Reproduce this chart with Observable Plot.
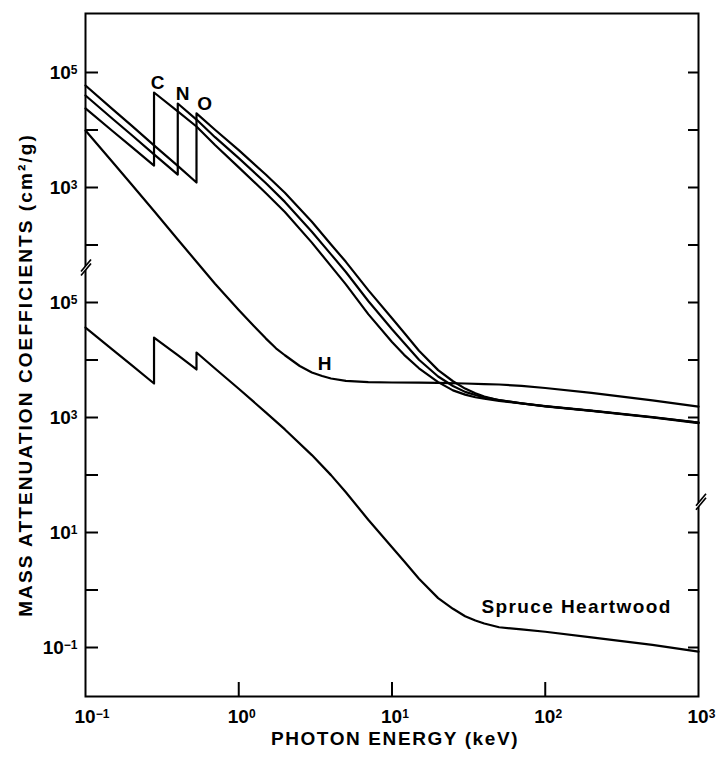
<!DOCTYPE html>
<html><head><meta charset="utf-8">
<script src="https://cdn.jsdelivr.net/npm/d3@7"></script>
<script src="https://cdn.jsdelivr.net/npm/@observablehq/plot@0.6"></script>
<style>
html,body{margin:0;padding:0;background:#fff;}
</style>
</head><body><div id="chart"></div>
<script>
// ---- data: [photon energy keV, mass attenuation coefficient cm^2/g] ----
const carbon = [[0.1,2.37e4],[0.15,9.61e3],[0.2,5.10e3],[0.28,2.41e3],[0.28,4.49e4],[0.4,2.10e4],[0.53,1.15e4],[0.7,5.48e3],[1,2.24e3],[1.5,802],[2,375],[3,110],[4,43],[5,20.7],[7,6.28],[10,2.05],[12,1.23],[15,0.717],[20,0.413],[25,0.296],[30,0.250],[35,0.225],[40,0.213],[50,0.194],[70,0.175],[100,0.156],[200,0.130],[500,0.100],[1000,0.080]];
const nitrogen = [[0.1,3.98e4],[0.15,1.57e4],[0.2,8.19e3],[0.28,3.78e3],[0.4,1.68e3],[0.4,2.89e4],[0.53,1.52e4],[0.7,7.50e3],[1,3.24e3],[1.5,1.20e3],[2,562],[3,170],[4,68.7],[5,33.9],[7,10.6],[10,3.43],[12,1.98],[15,1.01],[20,0.516],[25,0.353],[30,0.279],[35,0.246],[40,0.224],[50,0.200],[70,0.176],[100,0.157],[200,0.131],[500,0.101],[1000,0.0812]];
const oxygen = [[0.1,5.94e4],[0.15,2.31e4],[0.2,1.19e4],[0.28,5.40e3],[0.4,2.38e3],[0.53,1.22e3],[0.53,1.94e4],[0.7,1.01e4],[1,4.47e3],[1.5,1.68e3],[2,809],[3,254],[4,102],[5,51],[7,16.4],[10,5.31],[12,2.97],[15,1.45],[20,0.667],[25,0.427],[30,0.318],[35,0.265],[40,0.232],[50,0.200],[70,0.177],[100,0.158],[200,0.132],[500,0.102],[1000,0.0818]];
const hydrogen = [[0.1,9.80e3],[0.15,2.77e3],[0.2,1.13e3],[0.28,389],[0.4,125],[0.53,51.1],[0.7,21.2],[1,7.41],[1.25,3.94],[1.5,2.38],[1.75,1.60],[2,1.21],[2.5,0.787],[3,0.608],[3.5,0.527],[4,0.477],[5,0.435],[7,0.413],[10,0.406],[15,0.404],[20,0.400],[30,0.390],[40,0.381],[50,0.375],[70,0.355],[100,0.326],[200,0.269],[500,0.198],[1000,0.155]];
const spruce = [[0.1,3.67e4],[0.15,1.52e4],[0.2,8.15e3],[0.28,3.90e3],[0.28,2.46e4],[0.4,1.21e4],[0.53,6.84e3],[0.53,1.35e4],[0.7,7.11e3],[1,3.16e3],[1.5,1.23e3],[2,620],[3,222],[4,99.5],[5,50.0],[7,16.7],[10,5.55],[12,3.16],[15,1.57],[20,0.723],[25,0.471],[30,0.349],[35,0.295],[40,0.261],[50,0.225],[70,0.206],[100,0.188],[200,0.150],[500,0.111],[1000,0.0851]];

// the element curves use an upper (broken) scale sitting 4 decades above the spruce scale
const upperShift = 1e4;

// labels
const labelText = ["C", "N", "O", "H", "Spruce Heartwood"];
const labelEnergy = [0.295, 0.43, 0.598, 3.63, 160];
const labelValue = [6.7e4, 4.31e4, 2.89e4, 0.869, 0.516];
const labelUpper = [true, true, true, true, false];

// ticks
const xTickValues = [0.1, 1, 10, 100, 1000];
const xInnerTicks = [1, 10, 100];
const lowerTicks = [1e-1, 1e0, 1e1, 1e2, 1e3, 1e4, 1e5];
const lowerLabeled = [1e-1, 1e1, 1e3, 1e5];
const upperTicks = [1e2, 1e3, 1e4, 1e5];
const upperLabeled = [1e3, 1e5];
// axis breaks (in spruce-scale units)
const axisBreaks = [{side: "left", value: 3.9e5}, {side: "right", value: 33}];

const xTitle = "PHOTON ENERGY (keV)";
const yTitle = "MASS ATTENUATION COEFFICIENTS (cm\u00B2/g)";

// ---- build ----
const seriesList = [["C", carbon, upperShift], ["N", nitrogen, upperShift], ["O", oxygen, upperShift], ["H", hydrogen, upperShift], ["Spruce", spruce, 1]];
const rows = seriesList.flatMap(([name, pts, k]) => pts.map(([E, v]) => ({series: name, E, y: v * k})));
const labelRows = labelText.map((t, i) => ({label: t, E: labelEnergy[i], y: labelValue[i] * (labelUpper[i] ? upperShift : 1)}));
const yTickMarks = [...lowerTicks, ...upperTicks.map(v => v * upperShift)];
const yLabelValues = [...lowerLabeled, ...upperLabeled.map(v => v * upperShift)];
const pow = v => "10^" + String(Math.round(Math.log10(v))).replace("-", "\u2212");
const yFmt = d => d >= 1e6 ? pow(d / upperShift) : pow(d);

function breakMarks(index, scales, values, dimensions) {
  const ns = "http://www.w3.org/2000/svg";
  const g = document.createElementNS(ns, "g");
  for (const b of axisBreaks) {
    const x = b.side === "left" ? dimensions.marginLeft : dimensions.width - dimensions.marginRight;
    const y = scales.y(b.value);
    const cx = x + (b.side === "left" ? 1 : 3);
    const mask = document.createElementNS(ns, "polygon");
    mask.setAttribute("points", `${cx-4},${y+6} ${cx+4},${y-4} ${cx+4},${y-7} ${cx-4},${y+3}`);
    mask.setAttribute("fill", "white");
    g.appendChild(mask);
    for (const off of [3.5, -0.5]) {
      const l = document.createElementNS(ns, "line");
      l.setAttribute("x1", cx - 5); l.setAttribute("y1", y + 4 + off);
      l.setAttribute("x2", cx + 5); l.setAttribute("y2", y - 8 + off);
      l.setAttribute("stroke", "black"); l.setAttribute("stroke-width", 1.7);
      g.appendChild(l);
    }
  }
  return g;
}

const font = "'Liberation Sans', Arial, Helvetica, sans-serif";
const plot = Plot.plot({
  width: 719, height: 763,
  marginLeft: 85, marginRight: 21, marginTop: 13, marginBottom: 67,
  style: {fontFamily: font, fontSize: "19px", fontWeight: "bold", background: "white", color: "black"},
  x: {type: "log", domain: [0.1, 1000]},
  y: {type: "log", domain: [10 ** -1.852, 10 ** 10.026]},
  marks: [
    Plot.frame({stroke: "black", strokeWidth: 2}),
    Plot.tickY(yTickMarks, {y: d => d, insetRight: 600, strokeWidth: 2}),
    Plot.tickY(yTickMarks, {y: d => d, insetLeft: 603, strokeWidth: 2}),
    Plot.tickX(xInnerTicks, {x: d => d, insetTop: 669, strokeWidth: 2}),
    Plot.axisX({ticks: xTickValues, anchor: "bottom", tickSize: 0, tickPadding: 13, tickFormat: pow, label: null, fontSize: 19}),
    Plot.axisY({ticks: yLabelValues, anchor: "left", tickSize: 0, tickPadding: 8, tickFormat: yFmt, label: null, fontSize: 19}),
    Plot.line(rows, {x: "E", y: "y", z: "series", stroke: "black", strokeWidth: 2.2}),
    Plot.text(labelRows, {x: "E", y: "y", text: "label", fontSize: 19, fontWeight: "bold"}),
    Plot.text([xTitle], {frameAnchor: "bottom", textAnchor: "middle", lineAnchor: "middle", dx: 3, dy: 42, fontSize: 19, fontWeight: "bold"}),
    Plot.text([yTitle], {frameAnchor: "left", textAnchor: "middle", lineAnchor: "middle", dx: -60, dy: 20, rotate: -90, fontSize: 19, fontWeight: "bold"}),
    breakMarks
  ]
});

// superscripts in tick labels
const ns = "http://www.w3.org/2000/svg";
plot.querySelectorAll('[aria-label="y-axis tick label"] text, [aria-label="x-axis tick label"] text').forEach(t => {
  const s = t.textContent, i = s.indexOf("^");
  if (i < 0) return;
  t.textContent = "";
  t.setAttribute("font-size", "19");
  const base = document.createElementNS(ns, "tspan");
  base.textContent = s.slice(0, i);
  const sup = document.createElementNS(ns, "tspan");
  sup.textContent = s.slice(i + 1);
  sup.setAttribute("dy", "-0.42em");
  sup.setAttribute("font-size", "12");
  t.append(base, sup);
});
plot.querySelectorAll('[aria-label="x-axis tick label"] text').forEach(t => {
  t.setAttribute("text-anchor", "start");
  t.setAttribute("dx", "-11");
});
// wide tracking of the original lettering
plot.querySelectorAll("text").forEach(t => {
  const s = t.textContent;
  if (s === xTitle) t.setAttribute("letter-spacing", "1.6");
  else if (s === yTitle) t.setAttribute("letter-spacing", "2.1");
  else if (s === "Spruce Heartwood") t.setAttribute("letter-spacing", "1.4");
});

document.getElementById("chart").appendChild(plot);
</script>
</body></html>
